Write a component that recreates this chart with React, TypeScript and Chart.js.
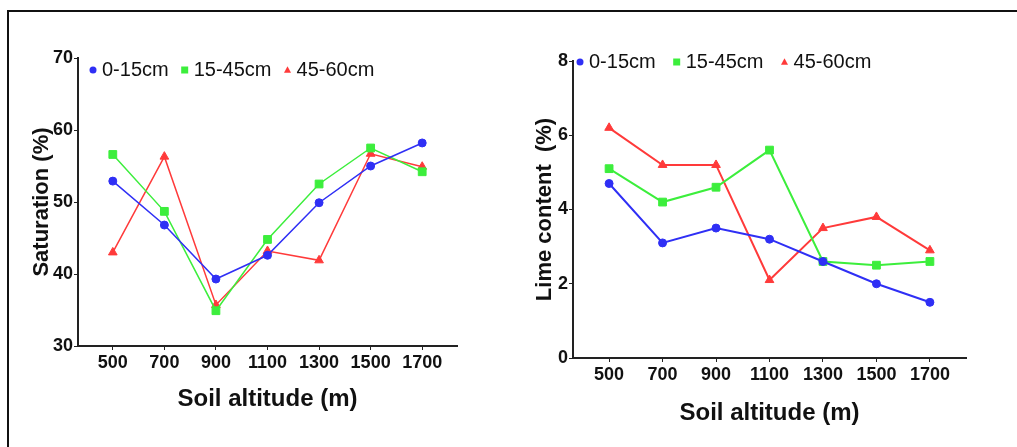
import React, { useEffect, useRef } from "react";
import { Chart, registerables } from "chart.js";

Chart.register(...registerables);

const altitudes = [500, 700, 900, 1100, 1300, 1500, 1700];
const seriesLabels = ["0-15cm", "15-45cm", "45-60cm"];

const saturation0_15 = [52.9, 46.8, 39.3, 42.6, 49.9, 55.0, 58.2];
const saturation15_45 = [56.6, 48.7, 34.9, 44.8, 52.5, 57.5, 54.2];
const saturation45_60 = [43.0, 56.3, 35.7, 43.2, 41.9, 56.7, 54.9];

const lime0_15 = [4.7, 3.1, 3.5, 3.2, 2.6, 2.0, 1.5];
const lime15_45 = [5.1, 4.2, 4.6, 5.6, 2.6, 2.5, 2.6];
const lime45_60 = [6.2, 5.2, 5.2, 2.1, 3.5, 3.8, 2.9];

const saturationTicks = [30, 40, 50, 60, 70];
const limeTicks = [0, 2, 4, 6, 8];

const colors = ["#2f2ff5", "#3cee3c", "#ff3a3a"];
const pointStyles = ["circle", "rect", "triangle"];
const pointRadii = [4, 5.5, 5];

type Cfg = {
  canvasLeft: number;
  canvasWidth: number;
  areaLeft: number;
  areaRight: number;
  areaTop: number;
  areaBottom: number;
  series: number[][];
  yTicks: number[];
  yTitle: string;
  yTitleCenter: number;
  xTitleBottom: number;
  legendStart: number;
  legendY: number;
  legendGap: number;
  lineWidth: number;
};

function drawMarker(ctx: CanvasRenderingContext2D, style: string, x: number, y: number, r: number) {
  ctx.beginPath();
  if (style === "circle") {
    ctx.arc(x, y, r, 0, Math.PI * 2);
  } else if (style === "rect") {
    ctx.rect(x - r, y - r, 2 * r, 2 * r);
  } else {
    ctx.moveTo(x, y - r * 1.1);
    ctx.lineTo(x + r, y + r * 0.8);
    ctx.lineTo(x - r, y + r * 0.8);
    ctx.closePath();
  }
  ctx.fill();
}

function LineChart({ cfg }: { cfg: Cfg }) {
  const ref = useRef<HTMLCanvasElement | null>(null);
  useEffect(() => {
    if (!ref.current) return;
    const H = 447;
    const yWidth = cfg.areaLeft - cfg.canvasLeft;
    const padRight = cfg.canvasLeft + cfg.canvasWidth - cfg.areaRight;
    const xHeight = H - cfg.areaBottom;
    const fontFamily = "'Liberation Sans', Arial, sans-serif";

    const legendPlugin = {
      id: "innerLegend",
      afterDraw(chart: any) {
        const ctx = chart.ctx as CanvasRenderingContext2D;
        const area = chart.chartArea;
        ctx.save();
        ctx.font = "20px " + fontFamily;
        ctx.textBaseline = "middle";
        ctx.textAlign = "left";
        let x = area.left + cfg.legendStart;
        const y = area.top + cfg.legendY;
        seriesLabels.forEach((label, i) => {
          ctx.fillStyle = colors[i];
          drawMarker(ctx, pointStyles[i], x, y, 3.5);
          ctx.fillStyle = "#111";
          ctx.fillText(label, x + 9, y);
          x += 9 + ctx.measureText(label).width + cfg.legendGap;
        });
        ctx.restore();
      },
    };

    const chart = new Chart(ref.current, {
      type: "line",
      data: {
        datasets: cfg.series.map((vals, i) => ({
          label: seriesLabels[i],
          data: altitudes.map((a, j) => ({ x: a, y: vals[j] })),
          borderColor: colors[i],
          backgroundColor: colors[i],
          pointBackgroundColor: colors[i],
          pointBorderColor: colors[i],
          pointStyle: pointStyles[i] as any,
          pointRadius: pointRadii[i],
          pointBorderWidth: 1,
          borderWidth: cfg.lineWidth,
          tension: 0,
        })),
      },
      options: {
        animation: false,
        responsive: false,
        maintainAspectRatio: false,
        layout: {
          autoPadding: false,
          padding: { left: 0, right: padRight, top: cfg.areaTop, bottom: 0 },
        },
        plugins: {
          legend: { display: false },
          tooltip: { enabled: false },
        },
        scales: {
          x: {
            type: "linear",
            min: 365,
            max: 1835,
            afterBuildTicks: (scale: any) => {
              scale.ticks = altitudes.map((v) => ({ value: v }));
            },
            afterFit: (scale: any) => {
              scale.height = xHeight;
            },
            border: { display: true, color: "#222", width: 2 },
            grid: {
              display: true,
              drawOnChartArea: false,
              drawTicks: true,
              tickLength: 4,
              color: "#222",
              lineWidth: 1,
            },
            ticks: {
              color: "#111",
              padding: 2,
              maxRotation: 0,
              autoSkip: false,
              font: { family: fontFamily, size: 18, weight: "bold" },
              callback: (v: any) => String(v),
            },
            title: {
              display: true,
              text: "Soil altitude (m)",
              color: "#111",
              font: { family: fontFamily, size: 24, weight: "bold" },
              padding: { top: 0, bottom: cfg.xTitleBottom },
            },
          },
          y: {
            type: "linear",
            min: cfg.yTicks[0],
            max: cfg.yTicks[cfg.yTicks.length - 1],
            afterBuildTicks: (scale: any) => {
              scale.ticks = cfg.yTicks.map((v) => ({ value: v }));
            },
            afterFit: (scale: any) => {
              scale.width = yWidth;
            },
            border: { display: true, color: "#222", width: 2 },
            grid: {
              display: true,
              drawOnChartArea: false,
              drawTicks: true,
              tickLength: 4,
              color: "#222",
              lineWidth: 1,
            },
            ticks: {
              color: "#111",
              padding: 1,
              font: { family: fontFamily, size: 18, weight: "bold" },
              callback: (v: any) => String(v),
            },
            title: {
              display: true,
              text: cfg.yTitle,
              color: "#111",
              font: { family: fontFamily, size: 22, weight: "bold" },
              padding: { top: cfg.yTitleCenter - 13.2, bottom: 0 },
            },
          },
        },
      } as any,
      plugins: [legendPlugin],
    });
    return () => chart.destroy();
  }, [cfg]);

  return (
    <canvas
      ref={ref}
      width={cfg.canvasWidth}
      height={447}
      style={{ position: "absolute", left: cfg.canvasLeft, top: 0, width: cfg.canvasWidth, height: 447 }}
    />
  );
}

const leftCfg: Cfg = {
  canvasLeft: 0,
  canvasWidth: 505,
  areaLeft: 78,
  areaRight: 457,
  areaTop: 58,
  areaBottom: 346,
  series: [saturation0_15, saturation15_45, saturation45_60],
  yTicks: saturationTicks,
  yTitle: "Saturation (%)",
  yTitleCenter: 42,
  xTitleBottom: 33,
  legendStart: 15,
  legendY: 12,
  legendGap: 16,
  lineWidth: 1.5,
};

const rightCfg: Cfg = {
  canvasLeft: 505,
  canvasWidth: 512,
  areaLeft: 573,
  areaRight: 966,
  areaTop: 61,
  areaBottom: 358,
  series: [lime0_15, lime15_45, lime45_60],
  yTicks: limeTicks,
  yTitle: "Lime content  (%)",
  yTitleCenter: 545 - 505,
  xTitleBottom: 19,
  legendStart: 7,
  legendY: 1,
  legendGap: 21,
  lineWidth: 2,
};

export default function App() {
  return (
    <div style={{ position: "fixed", left: 0, top: 0, width: 1017, height: 447, background: "#fff", overflow: "hidden" }}>
      <div
        style={{
          position: "absolute",
          left: 7,
          top: 10,
          width: 1100,
          height: 500,
          borderTop: "2px solid #111",
          borderLeft: "2px solid #111",
        }}
      />
      <LineChart cfg={leftCfg} />
      <LineChart cfg={rightCfg} />
    </div>
  );
}
